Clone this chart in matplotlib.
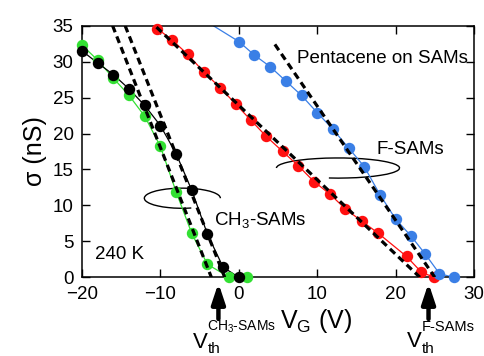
import matplotlib
matplotlib.use("Agg")
import matplotlib.pyplot as plt
from matplotlib.patches import Arc

plt.rcParams['font.family'] = ['Liberation Sans', 'DejaVu Sans']
plt.rcParams['mathtext.fontset'] = 'custom'
plt.rcParams['mathtext.rm'] = 'Liberation Sans'
plt.rcParams['mathtext.it'] = 'Liberation Sans:italic'

# CH3-SAMs, two runs (green / black)
green_v = [-20, -18, -16, -14, -12, -10, -8, -6, -4, -1.2, 1.0]
green_s = [32.3, 30.2, 27.7, 25.3, 22.4, 18.2, 11.9, 6.1, 1.8, 0.0, 0.0]
black_v = [-20, -18, -16, -14, -12, -10, -8, -6, -4, -2, 0]
black_s = [31.5, 29.8, 28.2, 26.2, 23.9, 21.1, 17.2, 12.1, 6.0, 1.4, 0.0]

# F-SAMs, two runs (red / blue)
red_v = [-10.4, -8.5, -6.5, -4.5, -2.4, -0.4, 1.5, 3.5, 5.6, 7.6, 9.6,
         11.6, 13.6, 15.7, 17.7, 21.4, 23.3, 24.9]
red_s = [34.6, 33.0, 31.0, 28.6, 26.4, 24.1, 21.9, 19.6, 17.5, 15.5, 13.3,
         11.6, 9.5, 7.8, 6.2, 2.9, 0.7, 0.0]
blue_v = [-4, 0, 2, 4, 6, 8, 10, 12, 14, 16, 18, 20, 22, 23.8, 25.6, 27.4]
blue_s = [35.5, 32.8, 30.9, 29.3, 27.3, 25.3, 22.9, 20.6, 18.0, 15.4, 11.5,
          8.1, 5.7, 3.2, 0.5, 0.0]

# linear fits (dashed), start / end
fit_green = ([-16.1, -3.5], [35, 0])
fit_black = ([-14.5, -1.8], [35, 0])
fit_red = ([-10.5, 23.1], [34.8, 0])
fit_blue = ([4.6, 25.0], [32.4, 0])

vth_ch3 = -2.6
vth_f = 24.2

fig = plt.figure(figsize=(4.85, 3.56), dpi=100)
ax = fig.add_axes([0.1691, 0.2211, 0.8082, 0.7067])

ms = 7.2
for v, s, c in [(green_v, green_s, '#33e033'), (black_v, black_s, 'black'),
                (red_v, red_s, '#ff1010'), (blue_v, blue_s, '#3a7fe6')]:
    ax.plot(v, s, '-', color=c, lw=0.9, zorder=2)
    pv = [a for a, b in zip(v, s) if b <= 35]
    ps = [b for b in s if b <= 35]
    ax.plot(pv, ps, 'o', color=c, ms=ms, mec=c, clip_on=False, zorder=3)

for fx, fy in [fit_green, fit_black, fit_red, fit_blue]:
    ax.plot(fx, fy, color='black', lw=2.3, dashes=(2.2, 1.4), zorder=4)

# rotation ellipses
ax.add_patch(Arc((-7.2, 11.0), 9.7, 2.8, theta1=0, theta2=310,
                 color='black', lw=1.0, zorder=1))
ax.add_patch(Arc((12.65, 15.2), 15.7, 2.8, theta1=-130, theta2=180,
                 color='black', lw=1.0, zorder=1))

ax.set_xlim(-20, 30)
ax.set_ylim(0, 35)
ax.set_xticks([-20, -10, 0, 10, 20, 30])
ax.set_yticks([0, 5, 10, 15, 20, 25, 30, 35])
ax.tick_params(direction='in', length=6, width=1.0, labelsize=13.5,
               top=True, right=True, pad=6)
for sp in ax.spines.values():
    sp.set_linewidth(1.1)

ax.set_ylabel('σ (nS)', fontsize=18, labelpad=4)
ax.text(5.3, -7.1, r'$\mathrm{V_G}$ (V)', fontsize=18, ha='left',
        va='baseline', clip_on=False)

ax.text(7.4, 29.85, 'Pentacene on SAMs', fontsize=13.5, ha='left', va='baseline')
ax.text(17.6, 17.2, 'F-SAMs', fontsize=13.5, ha='left', va='baseline')
ax.text(-3.2, 7.3, r'CH$_3$-SAMs', fontsize=13.5, ha='left', va='baseline')
ax.text(-18.3, 2.55, '240 K', fontsize=13.5, ha='left', va='baseline')

# threshold labels: V, subscript th, superscript
ax.text(-5.85, -9.8, 'V', fontsize=16, ha='left', va='baseline', clip_on=False)
ax.text(-3.95, -10.5, 'th', fontsize=11, ha='left', va='baseline', clip_on=False)
ax.text(-4.05, -7.45, r'CH$_3$-SAMs', fontsize=10,
        ha='left', va='baseline', clip_on=False)
ax.text(21.4, -9.65, 'V', fontsize=16, ha='left', va='baseline', clip_on=False)
ax.text(23.3, -10.5, 'th', fontsize=11, ha='left', va='baseline', clip_on=False)
ax.text(23.3, -7.45, 'F-SAMs', fontsize=10.5,
        ha='left', va='baseline', clip_on=False)

for xv in [vth_ch3, vth_f]:
    ax.annotate('', xy=(xv, -0.8), xytext=(xv, -5.8),
                arrowprops=dict(arrowstyle='-|>,head_length=1.2,head_width=0.4',
                                lw=3.2, color='black', shrinkA=0, shrinkB=0),
                annotation_clip=False)

fig.savefig('out.png', dpi=100)
